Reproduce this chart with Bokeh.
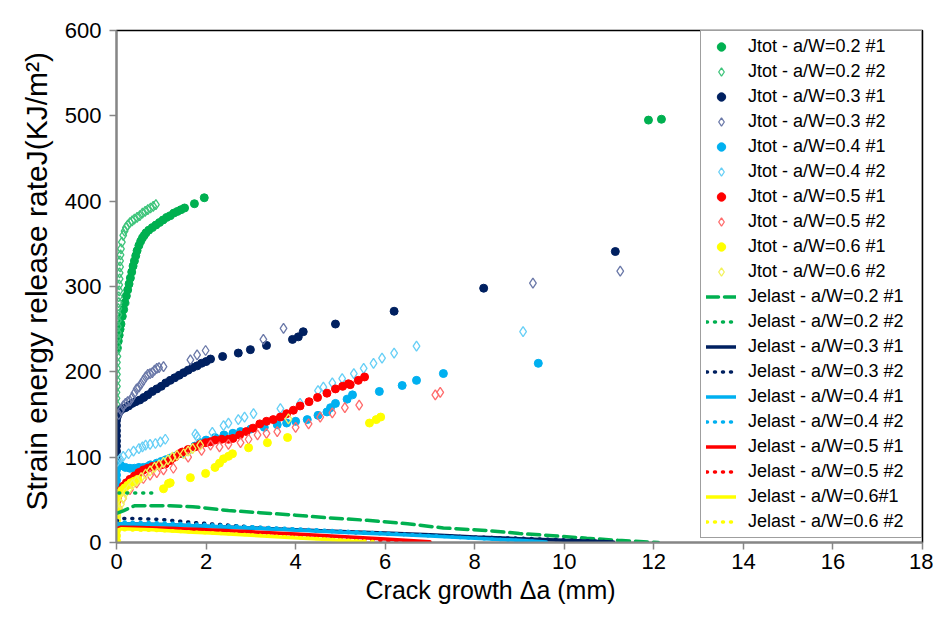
from bokeh.plotting import figure
from bokeh.models import Range1d, FixedTicker, Title
from bokeh.embed import file_html
from bokeh.resources import INLINE

# ---------------- data ----------------
# Jtot  a/W=0.2 #1 (filled)
j02_1_x = [0.02,0.04,0.06,0.08,0.1,0.13,0.16,0.19,0.22,0.25,0.28,0.31,0.34,0.37,0.4,0.43,0.46,0.5,0.54,0.58,
           0.62,0.66,0.72,0.8,0.88,0.96,1.04,1.12,1.2,1.28,1.36,1.44,1.52,1.74,1.96,11.88,12.17]
j02_1_y = [228,236,243,250,256,265,273,281,289,296,303,310,317,324,330,336,342,348,353,357,
           360,363,366,369,372,375,378,381,383,386,388,390,392,397,404,495,496]
# Jtot  a/W=0.2 #2 (open)
j02_2_x = [0,0,0,0,0,0.01,0.01,0.01,0.01,0.01,0.02,0.02,0.02,0.02,0.03,0.03,0.03,0.04,0.04,0.05,0.05,0.06,
           0.06,0.07,0.07,0.08,0.08,0.09,0.1,0.12,0.15,0.18,0.21,0.25,0.3,0.35,0.4,0.46,0.52,0.58,0.64,
           0.7,0.76,0.82,0.88]
j02_2_y = [148,155,162,169,176,183,190,197,204,211,218,225,232,239,246,253,260,267,274,281,288,295,
           302,309,316,323,330,337,344,352,360,365,369,372,375,377,379,381,383,386,388,
           390,392,394,396]
# Jtot  a/W=0.3 #1
j03_1_x = [0,0,0,0,0,0,0,0,0,0.02,0.05,0.09,0.14,0.2,0.27,0.35,0.43,0.52,0.61,0.7,0.8,0.9,1.0,1.1,1.2,1.3,
           1.4,1.5,1.6,1.7,1.8,1.9,2.0,2.1,2.37,2.72,2.99,3.35,3.93,4.06,4.17,4.89,6.2,8.2,11.14]
j03_1_y = [95,101,107,113,119,125,131,137,143,148,152,155,157,158,160,163,165,167,170,173,177,180,183,187,190,193,
           196,199,202,205,207,210,212,215,218,222,226,231,238,241,247,256,271,298,341]
# Jtot  a/W=0.3 #2
j03_2_x = [0.05,0.1,0.15,0.2,0.25,0.3,0.35,0.4,0.45,0.5,0.55,0.6,0.65,0.7,0.75,0.8,0.85,0.9,0.95,1.05,
           1.65,1.8,1.99,3.28,3.73,9.3,11.25]
j03_2_y = [150,155,160,163,165,166,170,175,180,182,186,190,194,197,198,199,202,204,205,206,
           214,220,225,238,251,304,318]
# Jtot  a/W=0.4 #1
j04_1_x = [0,0,0,0,0,0,0,0.05,0.1,0.2,0.3,0.4,0.5,0.6,0.7,0.76,0.9,1.0,1.1,1.2,1.3,1.47,1.6,1.75,1.87,2.0,
           2.2,2.4,2.6,2.77,3.0,3.3,3.59,3.8,4.0,4.26,4.5,4.7,4.78,4.89,5.15,5.27,5.87,6.38,6.7,7.3,9.42]
j04_1_y = [55,61,67,73,79,85,91,92,90,88,87,87,88,88,89,91,93,95,97,99,101,104,108,113,117,120,
           123,126,128,130,133,135,138,140,142,144,149,153,158,163,168,173,177,184,190,198,210]
# Jtot  a/W=0.4 #2
j04_2_x = [0.02,0.08,0.15,0.27,0.38,0.5,0.58,0.65,0.75,0.87,0.98,1.09,1.76,1.8,2.14,2.39,2.5,2.72,2.86,3.06,
           3.66,4.1,4.5,4.62,4.82,5.04,5.3,5.52,5.74,5.93,6.2,6.7,9.08]
j04_2_y = [95,98,101,104,107,110,112,114,115,116,118,121,127,124,129,137,140,144,147,151,
           157,163,178,182,187,192,198,204,210,216,222,230,247]
# Jtot  a/W=0.5 #1
j05_1_x = [0.0,0.0,0.02,0.05,0.09,0.15,0.22,0.3,0.4,0.5,0.6,0.7,0.8,0.9,1.0,1.09,1.2,1.3,1.4,1.47,1.6,1.75,
           1.87,1.99,2.1,2.2,2.35,2.5,2.6,2.75,2.9,3.05,3.2,3.35,3.5,3.66,3.8,3.95,4.1,4.3,4.49,4.7,4.89,
           5.05,5.18,5.22,5.4,5.54]
j05_1_y = [40,48,53,57,61,66,70,74,78,82,85,87,89,90,91,92,96,100,104,106,109,112,
           115,117,118,120,121,121,122,126,130,134,139,142,144,147,151,155,160,165,170,175,180,
           183,186,185,190,194]
# Jtot  a/W=0.5 #2
j05_2_x = [0.05,0.15,0.3,0.45,0.6,0.75,0.9,1.05,1.27,1.6,1.9,2.1,2.3,2.5,2.77,2.95,3.15,3.35,3.59,4.0,
           4.29,4.55,4.82,5.1,5.42,7.12,7.23]
j05_2_y = [40,52,62,70,75,79,82,85,87,100,108,114,112,115,117,121,126,128,130,135,
           139,147,152,158,161,173,176]
# Jtot  a/W=0.6 #1
j06_1_x = [0,0,0,0,0,0,0,0,0,0.03,0.07,0.12,0.18,0.25,0.32,0.4,0.48,1.05,1.16,1.2,1.65,1.99,2.2,2.3,2.39,
           2.5,2.59,2.95,3.37,3.82,5.65,5.8,5.9]
j06_1_y = [2,8,14,20,26,32,38,44,50,55,58,61,64,67,70,72,74,63,69,70,76,81,88,93,98,
           101,104,111,117,123,140,144,147]
# Jtot  a/W=0.6 #2
j06_2_x = [0.02,0.06,0.1,0.15,0.2,0.28,0.36,0.45,0.55,0.65,0.75,0.85,0.95,1.05,1.15,1.25,1.35,1.5,1.6,1.7,1.87,3.84]
j06_2_y = [30,38,45,52,58,63,68,72,76,80,84,88,91,94,97,100,102,104,107,110,114,145]

# Jelast curves
e02_1_x = [0,0.15,0.4,1.2,1.7,2.5,3.2,4.0,4.7,5.6,6.5,7.3,8.3,9.0,9.75,10.5,11.2,12.1]
e02_1_y = [34,37,43,43,42,37.5,35,32,29,26,22,17,14,10.5,8,5,2.5,0]
e02_2_x = [0.05,0.3,0.55,0.8]
e02_2_y = [58,58,58,58]
e03_1_x = [0,0.1,1,2,3,4,5,6,7,8,9,10,11.1]
e03_1_y = [20,22,21,19,17,15,13,11,9,6.5,4.5,2.5,0.5]
e03_2_x = [0,0.1,0.5,1,1.7,3.2,5.1,7.1,9.3,11]
e03_2_y = [25,28,28,27,23.5,17.5,12,8,4.5,1]
e04_1_x = [0,0.1,1,2,3,4,5,6,7,8,9,9.6]
e04_1_y = [20,22,21,19,17,14.5,12,10,7.5,5,2.5,0.5]
e04_2_x = [0,0.1,1,2,3,4,5,6,7,8,9.3]
e04_2_y = [22,24,23,21,18.5,16,13.5,11,8,5,1.5]
e05_1_x = [0,0.1,1,2,3,4,5,6,7]
e05_1_y = [16,18,17,15,12.5,10,7,4,1]
e05_2_x = [0,0.1,0.7,1.2,2.0,2.84,3.73,5.07,6.4,7.05]
e05_2_y = [15,17,16,15.5,13,11,8,4.5,1.5,0.5]
e06_1_x = [0,0.1,0.8,1.7,2.1,3.0,3.95,4.7,5.5]
e06_1_y = [14,16,15,12,11,8.5,5.5,3.5,1]
e06_2_x = [0,0.1,1,2,3,4,5,5.8]
e06_2_y = [13,15,14,11.5,9,6,3,1]

x_ticks = [0, 2, 4, 6, 8, 10, 12, 14, 16, 18]
y_ticks = [0, 100, 200, 300, 400, 500, 600]
x_title = "Crack growth Δa (mm)"
y_title = "Strain energy release rateJ(KJ/m²)"

FONT = "Liberation Sans"
GREEN, NAVY, LBLUE, RED, YELLOW = "#00B050", "#002060", "#00B0F0", "#FF0000", "#FFFF00"
GREEN_L, NAVY_L, LBLUE_L, RED_L, YELLOW_L = "#3DC47A", "#6A78A8", "#66CFF6", "#FF6B6B", "#F2F25A"

p = figure(width=933, height=612, output_backend="svg", toolbar_location=None,
           x_range=Range1d(0, 18), y_range=Range1d(0, 600),
           min_border_left=116, min_border_right=11, min_border_top=30, min_border_bottom=70,
           background_fill_color="white", border_fill_color="white")

series = [
    (j02_1_x, j02_1_y, GREEN, True, "Jtot - a/W=0.2 #1"),
    (j02_2_x, j02_2_y, GREEN_L, False, "Jtot - a/W=0.2 #2"),
    (j03_1_x, j03_1_y, NAVY, True, "Jtot - a/W=0.3 #1"),
    (j03_2_x, j03_2_y, NAVY_L, False, "Jtot - a/W=0.3 #2"),
    (j04_1_x, j04_1_y, LBLUE, True, "Jtot - a/W=0.4 #1"),
    (j04_2_x, j04_2_y, LBLUE_L, False, "Jtot - a/W=0.4 #2"),
    (j05_1_x, j05_1_y, RED, True, "Jtot - a/W=0.5 #1"),
    (j05_2_x, j05_2_y, RED_L, False, "Jtot - a/W=0.5 #2"),
    (j06_1_x, j06_1_y, YELLOW, True, "Jtot - a/W=0.6 #1"),
    (j06_2_x, j06_2_y, YELLOW_L, False, "Jtot - a/W=0.6 #2"),
]
for xs, ys, c, filled, lab in series:
    if filled:
        p.scatter(xs, ys, marker="circle", size=8, fill_color=c, line_color=c, legend_label=lab)
    else:
        p.scatter(xs, ys, marker="diamond", size=10, fill_alpha=0, line_color=c, line_width=1.3,
                  legend_label=lab)

lines = [
    (e02_1_x, e02_1_y, GREEN, "12 6", "Jelast - a/W=0.2 #1"),
    (e02_2_x, e02_2_y, GREEN, "1 7", "Jelast - a/W=0.2 #2"),
    (e03_1_x, e03_1_y, NAVY, "solid", "Jelast - a/W=0.3 #1"),
    (e03_2_x, e03_2_y, NAVY, "1 7", "Jelast - a/W=0.3 #2"),
    (e04_1_x, e04_1_y, LBLUE, "solid", "Jelast - a/W=0.4 #1"),
    (e04_2_x, e04_2_y, LBLUE, "1 7", "Jelast - a/W=0.4 #2"),
    (e05_1_x, e05_1_y, RED, "solid", "Jelast - a/W=0.5 #1"),
    (e05_2_x, e05_2_y, RED, "1 7", "Jelast - a/W=0.5 #2"),
    (e06_1_x, e06_1_y, YELLOW, "solid", "Jelast - a/W=0.6#1"),
    (e06_2_x, e06_2_y, YELLOW, "1 7", "Jelast - a/W=0.6 #2"),
]
for xs, ys, c, dash, lab in lines:
    p.line(xs, ys, line_color=c, line_width=3.5, line_dash=dash, line_cap="round", legend_label=lab)

p.grid.visible = False
p.outline_line_color = "#000000"
p.outline_line_width = 1.5

for ax, ticks in ((p.xaxis[0], x_ticks), (p.yaxis[0], y_ticks)):
    ax.ticker = FixedTicker(ticks=ticks)
    ax.axis_line_color = "#868686"
    ax.axis_line_width = 2
    ax.major_tick_line_color = "#868686"
    ax.major_tick_line_width = 1.5
    ax.major_tick_out = 7
    ax.major_tick_in = 0
    ax.minor_tick_line_color = None
    ax.major_label_text_font = FONT
    ax.major_label_text_font_size = "22px"
    ax.major_label_text_color = "#000000"
p.xaxis.major_label_standoff = 4
p.yaxis.major_label_standoff = 8

# axis titles (placed as side titles so they can sit where the original has them)
xt = Title(text=x_title, align="left", offset=249, text_font=FONT, text_font_size="25px",
           text_font_style="normal", text_color="#000000", standoff=4)
p.add_layout(xt, "below")
yt = Title(text=y_title, align="left", offset=32, text_font=FONT, text_font_size="30px",
           text_font_style="normal", text_color="#000000", standoff=18)
p.add_layout(yt, "left")

lg = p.legend[0]
lg.location = "top_right"
lg.margin = 0
lg.padding = 5
lg.spacing = 4
lg.label_height = 21
lg.glyph_height = 21
lg.glyph_width = 30
lg.label_standoff = 12
lg.label_width = 168
lg.label_text_font = FONT
lg.label_text_font_size = "18px"
lg.label_text_color = "#000000"
lg.border_line_color = "#404040"
lg.border_line_width = 1.5
lg.background_fill_color = "white"
lg.background_fill_alpha = 1.0

open("out.html", "w").write(file_html(p, INLINE))
